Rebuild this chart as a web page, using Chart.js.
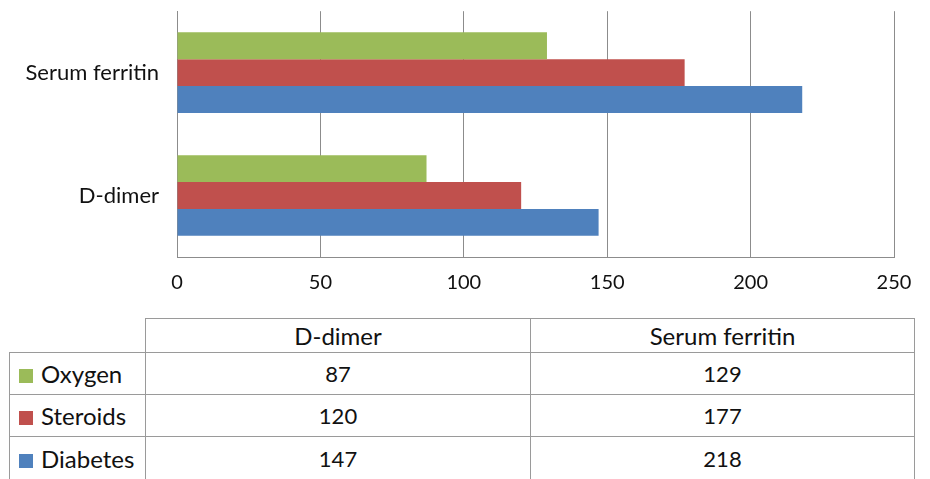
<!DOCTYPE html>
<html>
<head>
<meta charset="utf-8">
<script src="https://cdn.jsdelivr.net/npm/chart.js@4.4.1/dist/chart.umd.min.js"></script>
<style>
  html, body { margin: 0; padding: 0; background: #fff; width: 930px; height: 479px; overflow: hidden; }
  #wrap { position: absolute; left: 0; top: -20px; width: 930px; height: 320px; }
  table { position: absolute; left: 9px; top: 318px; border-collapse: collapse; font-family: Lato, "Open Sans", sans-serif; font-size: 22px; color: #111; table-layout: fixed; }
  td { border: 1px solid #9a9a9a; padding: 0; text-align: center; }
  td.corner { border-top: none; border-left: none; }
  td.head { font-size: 24px; }
  td.lab { text-align: left; padding-left: 9px; white-space: nowrap; font-size: 24px; }
  .sw { display: inline-block; width: 14px; height: 14px; margin-right: 8px; vertical-align: 0px; }
</style>
</head>
<body>
<div id="wrap"><canvas id="c"></canvas></div>
<table id="tbl"></table>
<script>
const categories = ['D-dimer', 'Serum ferritin'];
const seriesNames = ['Oxygen', 'Steroids', 'Diabetes'];
const oxygen = [87, 129];
const steroids = [120, 177];
const diabetes = [147, 218];
const xTicks = [0, 50, 100, 150, 200, 250];
const colors = ['#9BBB59', '#C0504D', '#4F81BD'];

const seriesValues = [oxygen, steroids, diabetes];
// chart lists categories top-to-bottom (Serum ferritin on top)
const chartLabels = categories.slice().reverse();
const datasets = seriesNames.map((name, i) => ({
  label: name,
  data: seriesValues[i].slice().reverse(),
  backgroundColor: colors[i],
  borderWidth: 0,
  barPercentage: 1.0,
  categoryPercentage: 0.656
}));

const FONT = { family: 'Lato, "Open Sans", sans-serif', size: 20 };
const YFONT = { family: 'Lato, "Open Sans", sans-serif', size: 22 };
const GRID = '#8c8c8c';

new Chart(document.getElementById('c'), {
  type: 'bar',
  data: { labels: chartLabels, datasets },
  options: {
    indexAxis: 'y',
    responsive: true,
    maintainAspectRatio: false,
    animation: false,
    layout: { padding: { top: 10, right: 36, left: 0, bottom: 0 } },
    plugins: { legend: { display: false }, tooltip: { enabled: false } },
    scales: {
      x: {
        min: xTicks[0], max: xTicks[xTicks.length - 1],
        afterBuildTicks: (s) => { s.ticks = xTicks.map(v => ({ value: v })); },
        ticks: { font: FONT, color: '#111', padding: 14 },
        grid: { color: GRID, lineWidth: 1, drawTicks: false },
        border: { display: true, color: GRID, width: 1 },
        afterFit: (s) => { s.height = 43; }
      },
      y: {
        ticks: { font: YFONT, color: '#111', padding: 18 },
        grid: { display: false, drawTicks: false },
        border: { display: true, color: GRID, width: 1 },
        afterFit: (s) => { s.width = 177; }
      }
    }
  }
});

// data table
const tbl = document.getElementById('tbl');
const colW = [136, 385, 384];
let html = '<colgroup>' + colW.map(w => `<col style="width:${w}px">`).join('') + '</colgroup>';
html += '<tr style="height:34px"><td class="corner"></td>' + categories.map(c => `<td class="head">${c}</td>`).join('') + '</tr>';
const rowH = [42, 42, 44];
seriesNames.forEach((name, i) => {
  html += `<tr style="height:${rowH[i]}px"><td class="lab"><span class="sw" style="background:${colors[i]}"></span>${name}</td>` +
    seriesValues[i].map(v => `<td>${v}</td>`).join('') + '</tr>';
});
tbl.innerHTML = html;
</script>
</body>
</html>
